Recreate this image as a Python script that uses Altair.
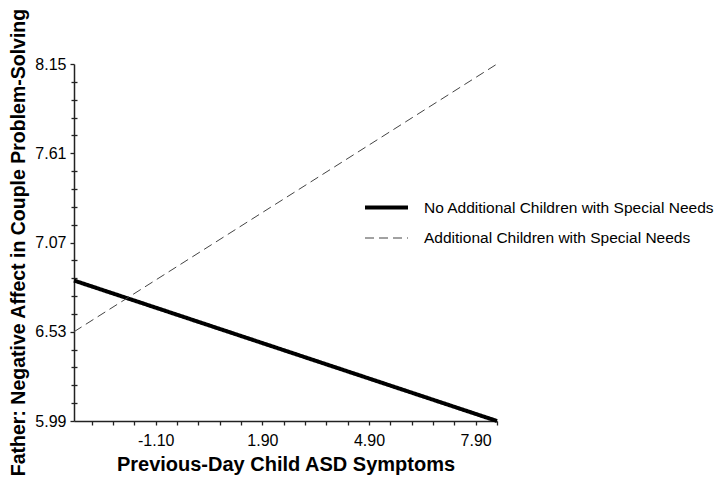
import altair as alt
import pandas as pd

groups = ["No Additional Children with Special Needs", "Additional Children with Special Needs"]
x_vals = [-3.4, 8.5]
no_add_y = [6.84, 5.99]
add_y = [6.53, 8.15]

y_major = [5.99, 6.53, 7.07, 7.61, 8.15]
y_minor = [6.098, 6.206, 6.314, 6.422, 6.638, 6.746, 6.854, 6.962,
           7.178, 7.286, 7.394, 7.502, 7.718, 7.826, 7.934, 8.042]
x_ticks = [-2.9, -2.3, -1.7, -1.1, -0.5, 0.1, 0.7, 1.3, 1.9, 2.5, 3.1, 3.7,
           4.3, 4.9, 5.5, 6.1, 6.7, 7.3, 7.9, 8.5]
x_major = [-1.1, 1.9, 4.9, 7.9]

rows = []
for g, ys in zip(groups, [no_add_y, add_y]):
    for x, y in zip(x_vals, ys):
        rows.append({"group": g, "x": x, "y": y})
df = pd.DataFrame(rows)

FONT = "Liberation Sans"
AX = "#222222"

xscale = alt.Scale(domain=[x_vals[0], x_vals[1]], nice=False, zero=False)
yscale = alt.Scale(domain=[y_major[0], y_major[-1]], nice=False, zero=False)

major_list = ",".join(str(v) for v in x_major)
x_axis = alt.Axis(
    values=x_ticks,
    labelExpr=(f"indexof([{major_list}], datum.value) >= 0 ? "
               "(datum.value < 0 ? '-' : '') + format(abs(datum.value), '.2f') : ''"),
    labelOverlap=False,
    labelFont=FONT, labelFontSize=16, labelColor="black", labelPadding=7,
    tickSize=4, tickColor=AX, tickWidth=1.3,
    domainColor=AX, domainWidth=1.5, grid=False,
    title="Previous-Day Child ASD Symptoms",
    titleFont=FONT, titleFontSize=20, titleFontWeight="bold", titleColor="black",
    titleBaseline="alphabetic", titleY=49,
)
y_axis = alt.Axis(
    values=y_major, format=".2f",
    labelFont=FONT, labelFontSize=16, labelColor="black", labelPadding=4,
    tickSize=4, tickColor=AX, tickWidth=1.3,
    domainColor=AX, domainWidth=1.5, grid=False,
    title="Father: Negative Affect in Couple Problem-Solving",
    titleFont=FONT, titleFontSize=19.5, titleFontWeight="bold", titleColor="black",
    titleBaseline="alphabetic", titleX=-50, titleY=178, titleAngle=270,
)
y_minor_axis = alt.Axis(
    values=y_minor, labels=False, domain=False, grid=False, title=None,
    tickSize=6, tickColor=AX, tickWidth=1.3, offset=-3, orient="left",
)


def make_legend():
    return alt.Legend(
        title=None, orient="none", legendX=289, legendY=120,
        symbolType="stroke", symbolSize=1849,
        labelFont=FONT, labelFontSize=15.5, labelColor="black", labelOffset=14,
        rowPadding=-3, padding=0, labelLimit=400,
    )


lines = alt.Chart(df).mark_line().encode(
    x=alt.X("x:Q", scale=xscale, axis=x_axis),
    y=alt.Y("y:Q", scale=yscale, axis=y_axis),
    strokeDash=alt.StrokeDash("group:N", scale=alt.Scale(domain=groups, range=[[1, 0], [9, 5]]), legend=make_legend()),
    strokeWidth=alt.StrokeWidth("group:N", scale=alt.Scale(domain=groups, range=[4, 1]), legend=make_legend()),
    color=alt.Color("group:N", scale=alt.Scale(domain=groups, range=["black", "#444444"]), legend=make_legend()),
    detail="group:N",
)

minor = alt.Chart(df).mark_point(opacity=0).encode(
    y=alt.Y("y:Q", scale=yscale, axis=y_minor_axis),
)

chart = alt.layer(lines, minor).resolve_axis(y="independent").properties(
    width=423, height=357,
    autosize=alt.AutoSizeParams(type="none"),
    padding={"left": 66, "top": 56, "right": 217, "bottom": 60},
).configure(background="white").configure_view(stroke=None)

chart.save("out.html", embed_options={"renderer": "svg", "actions": False})
